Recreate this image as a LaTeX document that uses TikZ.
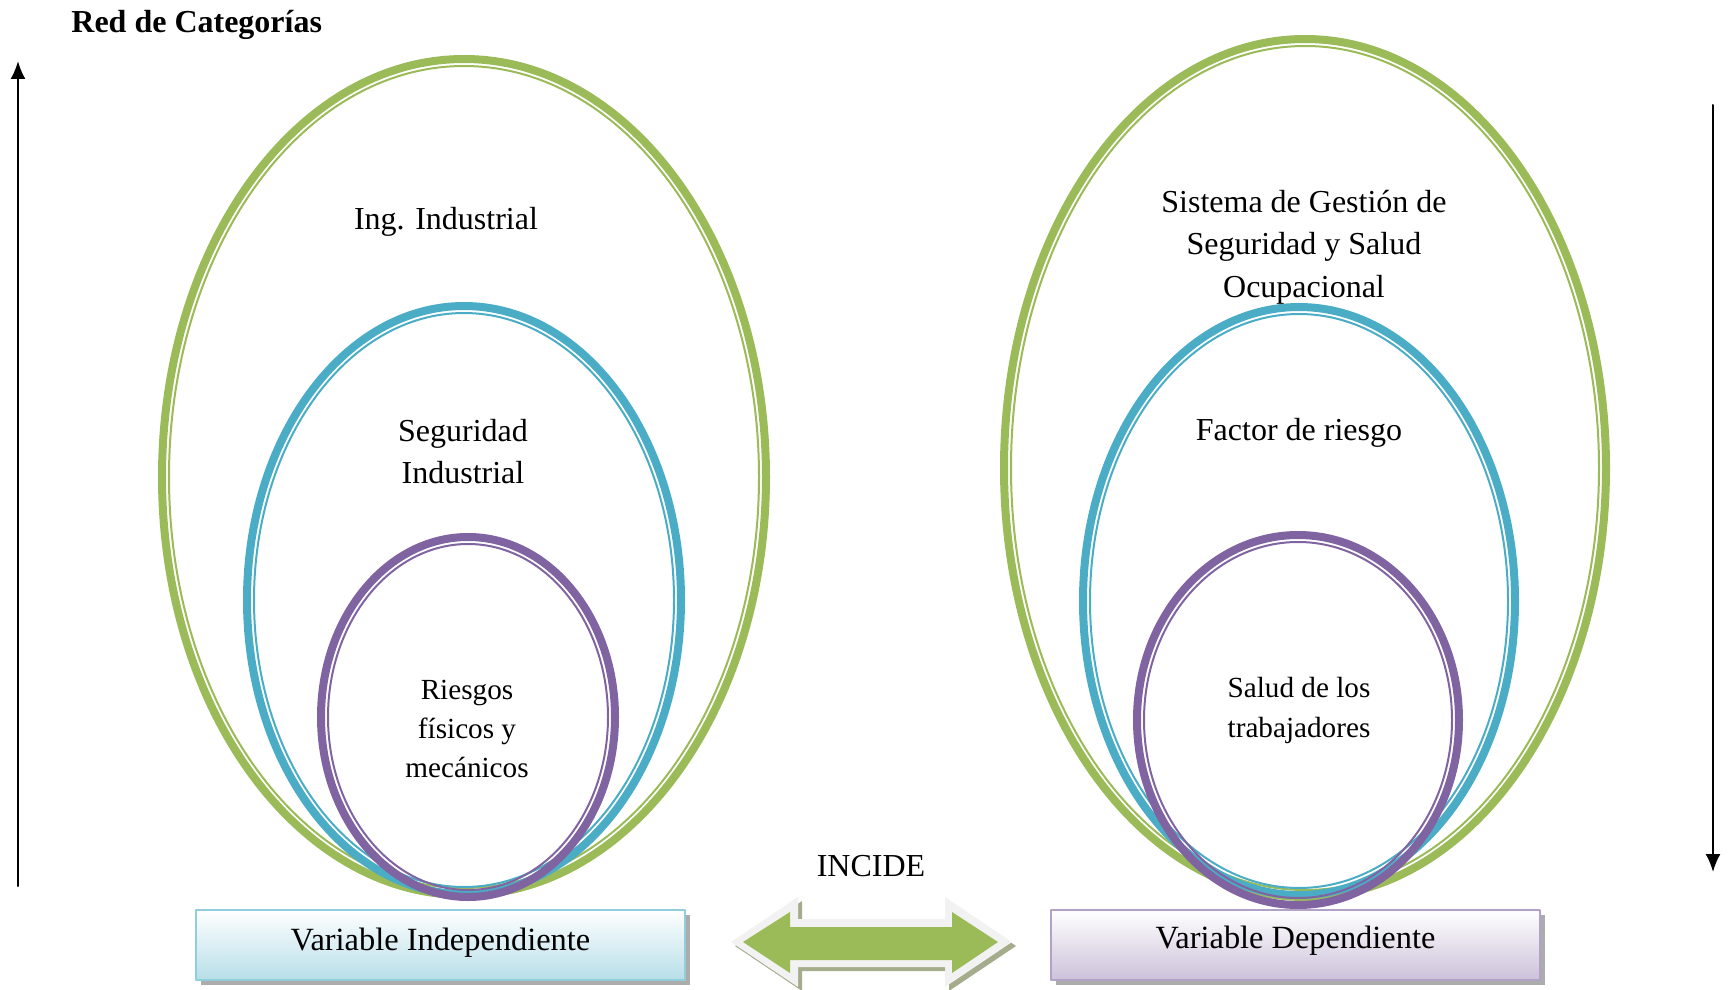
\documentclass[tikz,border=0pt]{standalone}
\usepackage{fontspec}
\setmainfont{Liberation Serif}
\usetikzlibrary{arrows.meta,shadows}
\definecolor{catgreen}{HTML}{9BBB59}
\definecolor{catblue}{HTML}{4BACC6}
\definecolor{catpurple}{HTML}{8064A2}
\definecolor{boxcyan}{HTML}{B7DEE8}
\definecolor{boxcyanline}{HTML}{92CDDC}
\definecolor{boxlilac}{HTML}{CCC1DA}
\definecolor{boxlilacline}{HTML}{B3A2C7}
\definecolor{arrowshade}{HTML}{A4AC8C}
% thick outer ring plus thin inner ring (outer extent given)
\newcommand{\catring}[5]{%
  \draw[#1, line width=4pt] (#2,#3) ellipse [x radius=#4-4, y radius=#5-4];
  \draw[#1, line width=1pt] (#2,#3) ellipse [x radius=#4-11, y radius=#5-11];
}
\tikzset{
  cattext/.style={font=\fontsize{16}{21}\selectfont, align=center, inner sep=0pt},
  varbox/.style={font=\fontsize{16.2}{18}\selectfont, minimum width=244.5pt, minimum height=35pt,
    line width=1pt, drop shadow={shadow xshift=2.5pt, shadow yshift=-2.5pt, fill=gray!65, opacity=1}},
}
\begin{document}
\begin{tikzpicture}[line cap=round,line join=round,x=0.5pt,y=-0.5pt]
    \useasboundingbox (0,0) rectangle (1730,990);

    % left rings
    \catring{catgreen}{464}{477}{306}{422}
    \catring{catblue}{464}{600}{221}{298}
    \catring{catpurple}{468}{717}{151}{184}

    % right rings
    \catring{catgreen}{1305}{468}{305}{433}
    \catring{catblue}{1299}{601}{220}{298}
    \catring{catpurple}{1298}{720}{165}{189}

    % side arrows
    \coordinate (upfoot) at (18,886);
    \coordinate (uptip) at (18,61);
    \coordinate (downfoot) at (1713,105);
    \coordinate (downtip) at (1713,872);
    \draw [-{Latex[length=9pt,width=7.5pt]},line width=1pt] (upfoot) -- (uptip);
    \draw [-{Latex[length=9pt,width=7.5pt]},line width=1pt] (downfoot) -- (downtip);

    % double arrow
    \fill[arrowshade] (735,946) -- (802,901) -- (802,923) -- (949,923) -- (949,901) -- (1016,946) -- (949,991) -- (949,971) -- (802,971) -- (802,991) -- cycle;
    \fill[black!5] (731,942) -- (798,897) -- (798,919) -- (945,919) -- (945,897) -- (1012,942) -- (945,987) -- (945,967) -- (798,967) -- (798,987) -- cycle;
    \fill[catgreen] (743,942) -- (790,912) -- (790,927) -- (952,927) -- (952,912) -- (998,942) -- (952,973) -- (952,960) -- (790,960) -- (790,973) -- cycle;

    % labels
    \node[anchor=west, font=\fontsize{16}{18}\selectfont\bfseries, inner sep=0pt] (title) at (71,25) {Red de Categorías};
    \node[cattext] (ing) at (446,222) {Ing. Industrial};
    \node[cattext] (seg) at (463,452) {Seguridad\\Industrial};
    \node[cattext, font=\fontsize{14.6}{19.3}\selectfont] (rie) at (467,729) {Riesgos\\físicos y\\mecánicos};
    \node[cattext, font=\fontsize{16}{21.3}\selectfont] (sis) at (1304,247) {Sistema de Gestión de\\Seguridad y Salud\\Ocupacional};
    \node[cattext] (fac) at (1299,433) {Factor de riesgo};
    \node[cattext, font=\fontsize{14.6}{20}\selectfont] (sal) at (1299,710) {Salud de los\\trabajadores};
    \node[cattext] (inc) at (871,866) {INCIDE};

    \node[varbox, draw=boxcyanline, top color=white, bottom color=boxcyan, text depth=1.2ex] (vind) at (440.5,945) {Variable Independiente};
    \node[varbox, draw=boxlilacline, top color=white, bottom color=boxlilac, text depth=1.6ex] (vdep) at (1295.5,945) {Variable Dependiente};
\end{tikzpicture}
\end{document}
